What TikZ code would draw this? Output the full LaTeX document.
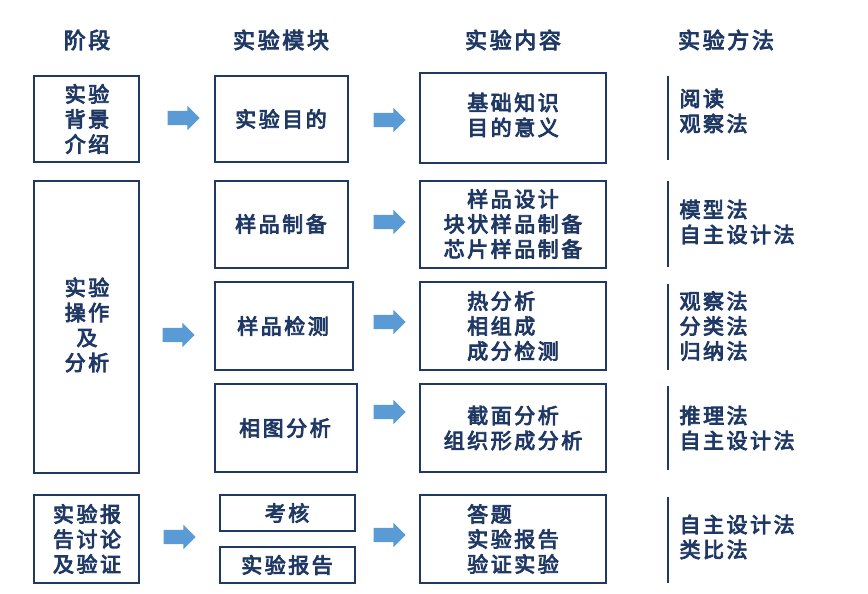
\documentclass[tikz,border=0pt]{standalone}
\usepackage{fontspec}
\newfontfamily\cjk[LetterSpace=12,AutoFakeBold=4]{Noto Sans CJK SC}
\usetikzlibrary{shapes.arrows}
\definecolor{navy}{HTML}{1F3864}
\definecolor{steel}{HTML}{5B9BD5}
\tikzset{
  txt/.style = {font=\cjk\bfseries\fontsize{21}{25}\selectfont, text=navy, align=center},
  head/.style = {txt, font=\cjk\bfseries\fontsize{22}{26}\selectfont},
  box/.style = {draw=navy, line width=1.6pt},
  blk/.style = {single arrow, fill=steel, draw=none, minimum width=24pt,
    single arrow head extend=5pt, minimum height=32pt, inner sep=7pt},
  meth/.style = {navy, line width=1.6pt},
}
\begin{document}
\begin{tikzpicture}[x=1pt, y=-1pt]
	\useasboundingbox (0,0) rectangle (868,594);
	% 表头
	\node[head] (h1) at (87, 40) {阶段};
	\node[head] (h2) at (281, 40) {实验模块};
	\node[head] (h3) at (513, 40) {实验内容};
	\node[head] (h4) at (726, 40) {实验方法};
	
	% 阶段
	\draw[box] (34, 76) rectangle (139, 162);
	\node[txt] (s1) at (87, 119) {实验\\背景\\介绍};
	\draw[box] (34, 181) rectangle (139, 473);
	\node[txt] (s2) at (87, 325) {实验\\操作\\及\\分析};
	\draw[box] (34, 495) rectangle (139, 583);
	\node[txt] (s3) at (87, 539) {实验报\\告讨论\\及验证};
	
	% 模块
	\draw[box] (215, 76) rectangle (348, 162);
	\node[txt] (m1) at (281, 119) {实验目的};
	\draw[box] (215, 181) rectangle (348, 268);
	\node[txt] (m2) at (281, 224) {样品制备};
	\draw[box] (215, 282) rectangle (353, 370);
	\node[txt] (m3) at (283, 326) {样品检测};
	\draw[box] (215, 384) rectangle (357, 472);
	\node[txt] (m4) at (285, 428) {相图分析};
	\draw[box] (220, 495) rectangle (355, 531);
	\node[txt] (m5) at (287, 513) {考核};
	\draw[box] (220, 547) rectangle (355, 583);
	\node[txt] (m6) at (287, 565) {实验报告};
	
	% 内容
	\draw[box] (420, 73) rectangle (606, 163);
	\node[txt] (c1) at (513, 115) {基础知识\\目的意义};
	\draw[box] (420, 181) rectangle (606, 268);
	\node[txt] (c2) at (513, 224) {样品设计\\块状样品制备\\芯片样品制备};
	\draw[box] (420, 282) rectangle (606, 370);
	\node[txt, align=left] (c3) at (513, 326) {热分析\\相组成\\成分检测};
	\draw[box] (420, 384) rectangle (606, 472);
	\node[txt] (c4) at (513, 428) {截面分析\\组织形成分析};
	\draw[box] (420, 495) rectangle (606, 583);
	\node[txt, align=left] (c5) at (513, 539) {答题\\实验报告\\验证实验};
	
	% 方法
	\draw[meth] (668, 76) -- (668, 160);
	\node[txt, align=left, anchor=west] (f1) at (676, 111) {阅读\\观察法};
	\draw[meth] (668, 181) -- (668, 267);
	\node[txt, align=left, anchor=west] (f2) at (676, 222) {模型法\\自主设计法};
	\draw[meth] (668, 284) -- (668, 370);
	\node[txt, align=left, anchor=west] (f3) at (676, 326) {观察法\\分类法\\归纳法};
	\draw[meth] (668, 386) -- (668, 470);
	\node[txt, align=left, anchor=west] (f4) at (676, 428) {推理法\\自主设计法};
	\draw[meth] (668, 497) -- (668, 583);
	\node[txt, align=left, anchor=west] (f5) at (676, 537) {自主设计法\\类比法};
	
	% 箭头
	\node[blk] (a1) at (180, 118) {};
	\node[blk] (a2) at (175, 335) {};
	\node[blk] (a3) at (176, 537) {};
	\node[blk] (b1) at (386, 120) {};
	\node[blk] (b2) at (386, 222) {};
	\node[blk] (b3) at (386, 322) {};
	\node[blk] (b4) at (386, 412) {};
	\node[blk] (b5) at (386, 535) {};
\end{tikzpicture}
\end{document}
